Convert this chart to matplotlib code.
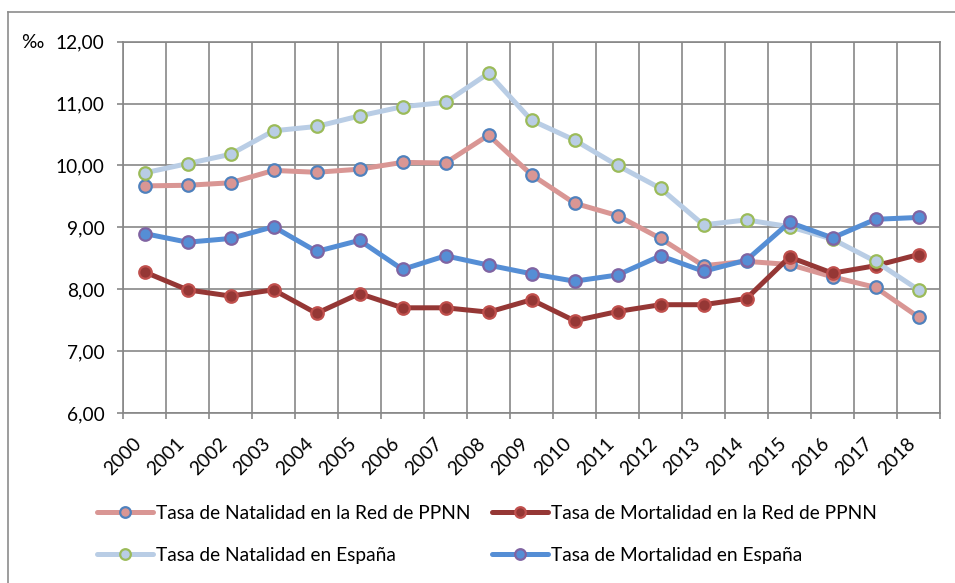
import numpy as np
import matplotlib.pyplot as plt
from matplotlib.lines import Line2D

plt.rcParams['font.family'] = ['Lato', 'DejaVu Sans']

years = [str(y) for y in range(2000, 2019)]

nat_red = [9.67, 9.68, 9.72, 9.92, 9.89, 9.94, 10.05, 10.04, 10.49, 9.85,
           9.39, 9.19, 8.82, 8.38, 8.45, 8.40, 8.20, 8.03, 7.55]
mort_red = [8.28, 7.99, 7.89, 7.99, 7.61, 7.93, 7.70, 7.70, 7.63, 7.83,
            7.49, 7.64, 7.75, 7.75, 7.85, 8.52, 8.26, 8.38, 8.56]
nat_esp = [9.88, 10.03, 10.18, 10.56, 10.63, 10.80, 10.95, 11.02, 11.49, 10.73,
           10.41, 10.00, 9.63, 9.04, 9.12, 9.01, 8.81, 8.45, 7.99]
mort_esp = [8.90, 8.76, 8.82, 9.01, 8.61, 8.79, 8.32, 8.54, 8.39, 8.25,
            8.13, 8.23, 8.54, 8.29, 8.47, 9.08, 8.83, 9.13, 9.16]

labels = ['Tasa de Natalidad en la Red de PPNN',
          'Tasa de Mortalidad en la Red de PPNN',
          'Tasa de Natalidad en España',
          'Tasa de Mortalidad en España']

W, H = 955, 583
fs = 13.8
fig = plt.figure(figsize=(W / 100, H / 100), dpi=100)
ax = fig.add_axes([123 / W, 1 - 413 / H, (940 - 123) / W, (413 - 41.7) / H])

x = np.arange(len(years))
grid_c = '#878787'

# series: (values, line colour, marker edge colour)
series = [
    (nat_red, '#D99694', '#4F81BD'),
    (mort_red, '#953735', '#C0504D'),
    (nat_esp, '#B9CDE5', '#9BBB59'),
    (mort_esp, '#558ED5', '#8064A2'),
]
for i, (vals, col, edge) in enumerate(series):
    ax.plot(x, vals, color=col, lw=3.6, marker='o', ms=9, mfc=col, mec=edge,
            mew=1.6, label=labels[i], zorder=3 + i, solid_capstyle='round')

ax.set_xlim(-0.5, len(years) - 0.5)
ax.set_ylim(6, 12)
ax.set_yticks(np.arange(6, 12.01, 1))
ax.set_yticklabels([f'{v:.2f}'.replace('.', ',') for v in np.arange(6, 12.01, 1)])
ax.set_xticks(x)
ax.set_xticklabels(years, rotation=45, ha='right')
ax.set_xticks(np.arange(-0.5, len(years), 1), minor=True)

ax.tick_params(axis='x', which='major', length=0, pad=16, labelsize=fs)
ax.tick_params(axis='x', which='minor', length=4.5, width=1.2, color=grid_c)
ax.tick_params(axis='y', length=4.5, width=1.2, color=grid_c, pad=9, labelsize=fs)

ax.grid(True, which='minor', axis='x', color=grid_c, lw=1.2)
ax.grid(True, which='major', axis='y', color=grid_c, lw=1.2)
for s in ax.spines.values():
    s.set_color(grid_c)
    s.set_linewidth(1.2)

fig.text(21 / W, 1 - 43 / H, '‰', ha='left', va='center', fontsize=fs)

# outer chart border (left and top edges visible)
fig.add_artist(Line2D([8 / W, 8 / W], [0, 1 - 12 / H], color='#8c8c8c', lw=1.2))
fig.add_artist(Line2D([8 / W, 1], [1 - 12 / H, 1 - 12 / H], color='#8c8c8c', lw=1.2))

# legend filled row by row like the original
h, l = ax.get_legend_handles_labels()
order = [0, 2, 1, 3]
fig.legend([h[i] for i in order], [l[i] for i in order], ncol=2, loc='upper left',
           bbox_to_anchor=(97 / W, 1 - 505 / H),
           frameon=False, fontsize=fs, borderpad=0, borderaxespad=0,
           handlelength=2.9, handletextpad=0.2, columnspacing=1.1,
           labelspacing=1.3, markerscale=0.85)

fig.savefig('out.png', dpi=100)
